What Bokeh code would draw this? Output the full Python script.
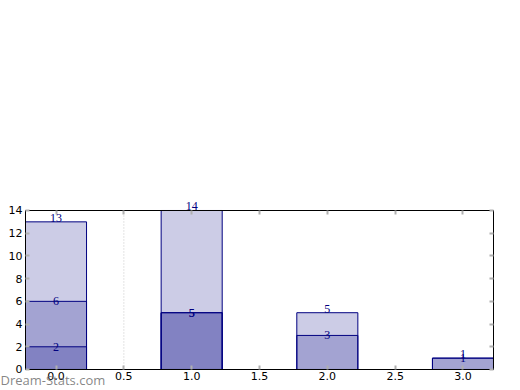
from bokeh.plotting import figure
from bokeh.models import (Range1d, LinearAxis, Label, LabelSet, ColumnDataSource,
                          FixedTicker, CustomJSTickFormatter)
from bokeh.embed import file_html
from bokeh.resources import INLINE

# data
x1 = [0, 1, 2, 3]
s1 = [13, 14, 5, 1]
x2 = [0, 1, 2, 3]
s2 = [6, 5, 3, 1]
x3 = [0, 1]
s3 = [2, 5]
x_ticks = [0.0, 0.5, 1.0, 1.5, 2.0, 2.5, 3.0]
y_ticks = [0, 2, 4, 6, 8, 10, 12, 14]
vline_x = 0.5
bar_w = 0.45

# axes box (data limits of the visible plot area)
x_lo, x_hi = -0.225, 3.225
y_lo, y_hi = 0, 14

# the drawing frame covers the whole canvas so that labels outside the box are not clipped
p = figure(width=512, height=388, output_backend="svg", toolbar_location=None,
           x_range=Range1d(-0.4093, 3.3651), y_range=Range1d(-1.673, 32.49),
           min_border=0, min_border_left=0, min_border_right=0,
           min_border_top=0, min_border_bottom=0)
p.xgrid.visible = False
p.ygrid.visible = False
p.outline_line_color = None
p.background_fill_color = "white"
p.border_fill_color = "white"

p.segment(x0=[vline_x], y0=[y_lo], x1=[vline_x], y1=[y_hi], line_color="#c8c8c8",
          line_dash="1 2", line_width=1)

for xs, ys in [(x1, s1), (x2, s2), (x3, s3)]:
    p.vbar(x=xs, top=ys, width=bar_w, bottom=0, fill_color="navy", fill_alpha=0.2,
           line_color="navy", line_width=1)

for xs, ys, base, off in [(x1, s1, "bottom", 0), (x2, s2, "middle", 0), (x3, s3, "middle", 0)]:
    src = ColumnDataSource(dict(x=xs, y=ys, t=[str(v) for v in ys]))
    p.add_layout(LabelSet(x="x", y="y", text="t", source=src, text_align="center",
                          text_baseline=base, y_offset=off, text_font="DejaVu Sans",
                          text_font_size="12px", text_color="navy", level="overlay"))

def style(ax, labels=True):
    ax.major_tick_in = 4
    ax.major_tick_out = 0
    ax.minor_tick_in = 0
    ax.minor_tick_out = 0
    ax.major_tick_line_color = "#b0b0b0"
    ax.major_tick_line_width = 2
    ax.axis_line_color = "black"
    ax.axis_line_width = 1
    ax.major_label_text_font = "DejaVu Sans"
    ax.major_label_text_font_size = "11px"
    ax.major_label_text_color = "black"
    ax.major_label_standoff = 3
    if not labels:
        ax.formatter = CustomJSTickFormatter(code="return ''")

p.xaxis.ticker = FixedTicker(ticks=x_ticks)
p.yaxis.ticker = FixedTicker(ticks=y_ticks)
p.xaxis.major_label_overrides = {t: f"{t:.1f}" for t in x_ticks}
p.xaxis.fixed_location = y_lo
p.xaxis.bounds = (x_lo, x_hi)
p.yaxis.fixed_location = x_lo
p.yaxis.bounds = (y_lo, y_hi)
style(p.xaxis[0])
style(p.yaxis[0])
top = LinearAxis(ticker=FixedTicker(ticks=x_ticks), fixed_location=y_hi, bounds=(x_lo, x_hi))
right = LinearAxis(ticker=FixedTicker(ticks=y_ticks), fixed_location=x_hi, bounds=(y_lo, y_hi))
style(top, False)
style(right, False)
p.add_layout(top, "above")
p.add_layout(right, "right")

p.add_layout(Label(x=0, y=8.5, x_units="screen", y_units="screen", text="Dream-Stats.com",
                   text_font="Open Sans", text_font_size="13px", text_font_style="normal",
                   text_color="#707070", text_alpha=0.85, text_baseline="middle",
                   level="overlay"))

open("out.html", "w").write(file_html(p, INLINE))
